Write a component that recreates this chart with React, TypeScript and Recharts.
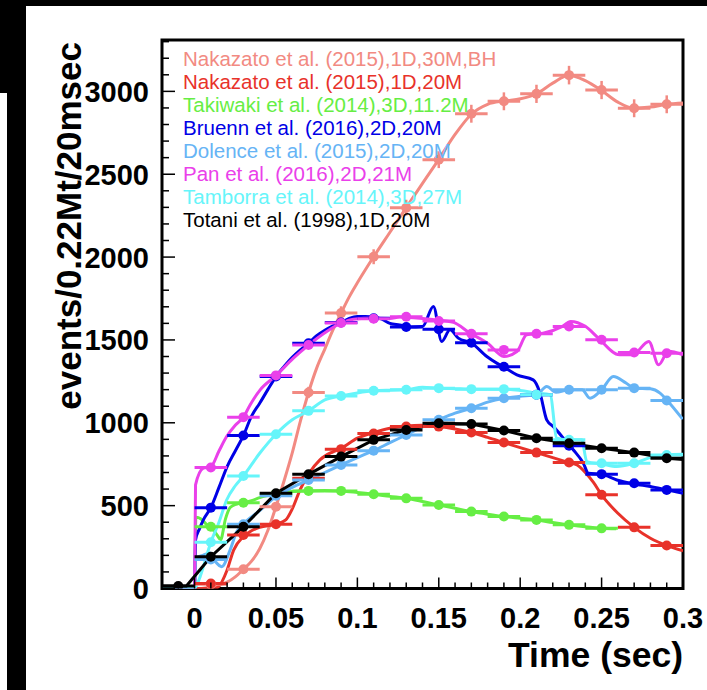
import React from 'react';
import { ComposedChart, Line, Scatter, XAxis, YAxis, ErrorBar, ReferenceArea } from 'recharts';

type Pt = [number, number];

// bin centres of the 20 ms markers
const binCenters = [0.01, 0.03, 0.05, 0.07, 0.09, 0.11, 0.13, 0.15, 0.17, 0.19, 0.21, 0.23, 0.25, 0.27, 0.29];
const takiwakiBins = [0.01, 0.03, 0.05, 0.07, 0.09, 0.11, 0.13, 0.15, 0.17, 0.19, 0.21, 0.23, 0.25];
const totaniBins = [-0.01, 0.01, 0.03, 0.05, 0.07, 0.09, 0.11, 0.13, 0.15, 0.17, 0.19, 0.21, 0.23, 0.25, 0.27, 0.29];

const nakazato30Line: Pt[] = [
  [-0.02, 0], [0.004, 0], [0.01, 8], [0.015, 20], [0.02, 38], [0.025, 70], [0.03, 116], [0.035, 165],
  [0.04, 240], [0.045, 350], [0.05, 494], [0.055, 650], [0.06, 818], [0.065, 1010], [0.07, 1183],
  [0.075, 1330], [0.08, 1445], [0.085, 1560], [0.09, 1662], [0.095, 1760], [0.1, 1845], [0.105, 1925],
  [0.11, 2002], [0.12, 2150], [0.13, 2298], [0.14, 2445], [0.15, 2590], [0.16, 2740], [0.17, 2862],
  [0.18, 2922], [0.19, 2942], [0.2, 2955], [0.21, 2985], [0.22, 3050], [0.23, 3098], [0.24, 3065],
  [0.25, 3005], [0.26, 2935], [0.27, 2898], [0.28, 2905], [0.29, 2922], [0.3, 2930],
];
const nakazato30Marks = [25, 116, 494, 1183, 1662, 2002, 2298, 2588, 2865, 2940, 2985, 3098, 3008, 2898, 2922];
const nakazato30Err = [5, 11, 22, 34, 41, 45, 48, 51, 54, 54, 55, 56, 55, 54, 54];

const nakazato20Line: Pt[] = [
  [-0.02, 0], [0.012, 0], [0.0146, 10], [0.02, 112], [0.024, 232], [0.03, 313], [0.034, 343],
  [0.04, 369], [0.05, 388], [0.056, 414], [0.06, 480], [0.065, 600], [0.07, 690], [0.077, 776],
  [0.085, 825], [0.09, 846], [0.1, 907], [0.11, 941], [0.12, 967], [0.13, 981], [0.14, 985],
  [0.15, 977], [0.16, 962], [0.17, 941], [0.18, 912], [0.19, 881], [0.2, 850], [0.21, 820],
  [0.22, 790], [0.23, 760], [0.235, 745], [0.24, 700], [0.245, 640], [0.25, 565], [0.26, 454],
  [0.27, 369], [0.28, 303], [0.29, 259], [0.3, 228],
];
const nakazato20Marks = [30, 323, 388, 665, 841, 935, 978, 977, 941, 881, 820, 760, 565, 369, 259];

const takiwakiLine: Pt[] = [
  [-0.02, 0], [0, 0], [0.0008, 430], [0.004, 420], [0.008, 380], [0.011, 360], [0.014, 320],
  [0.016, 295], [0.019, 420], [0.022, 490], [0.026, 510], [0.03, 518], [0.035, 530], [0.04, 548],
  [0.05, 571], [0.06, 585], [0.07, 589], [0.08, 591], [0.09, 589], [0.1, 580], [0.11, 569],
  [0.12, 556], [0.13, 544], [0.14, 525], [0.15, 504], [0.16, 484], [0.17, 464], [0.18, 448],
  [0.19, 434], [0.2, 424], [0.21, 414], [0.22, 398], [0.23, 384], [0.24, 372], [0.25, 363], [0.259, 360],
];
const takiwakiMarks = [373, 518, 571, 589, 589, 569, 544, 504, 464, 434, 414, 384, 363];

const bruennLine: Pt[] = [
  [-0.02, 0], [0, 0], [0.0006, 293], [0.003, 360], [0.0054, 414], [0.01, 488], [0.015, 610],
  [0.02, 736], [0.025, 830], [0.03, 923], [0.035, 1040], [0.04, 1118], [0.045, 1200], [0.05, 1279],
  [0.055, 1340], [0.06, 1395], [0.065, 1440], [0.07, 1481], [0.075, 1525], [0.08, 1558],
  [0.085, 1585], [0.09, 1605], [0.095, 1630], [0.1, 1642], [0.105, 1642], [0.11, 1638],
  [0.115, 1625], [0.12, 1600], [0.126, 1590], [0.132, 1578], [0.14, 1581], [0.1467, 1702],
  [0.1518, 1491], [0.1569, 1561], [0.162, 1511], [0.17, 1481], [0.1795, 1400], [0.1856, 1360],
  [0.19, 1336], [0.198, 1289], [0.208, 1259], [0.2122, 1179], [0.2163, 1018], [0.2204, 977],
  [0.2266, 907], [0.2327, 836], [0.2388, 756], [0.2419, 695], [0.25, 689], [0.2593, 655],
  [0.27, 631], [0.28, 615], [0.29, 595], [0.3, 575],
];
const bruennMarks = [488, 923, 1280, 1480, 1605, 1631, 1578, 1565, 1483, 1338, 1169, 861, 690, 635, 595];

const dolenceLine: Pt[] = [
  [-0.02, 0], [0, 0], [0.0006, 180], [0.005, 200], [0.0095, 214], [0.013, 160], [0.0167, 132],
  [0.0218, 232], [0.026, 345], [0.03, 390], [0.04, 470], [0.05, 555], [0.06, 610], [0.07, 655],
  [0.08, 700], [0.09, 746], [0.1, 790], [0.11, 832], [0.12, 880], [0.13, 927], [0.14, 975],
  [0.15, 1018], [0.16, 1058], [0.17, 1088], [0.18, 1125], [0.19, 1148], [0.2, 1160], [0.21, 1169],
  [0.2163, 1219], [0.222, 1185], [0.23, 1199], [0.238, 1199], [0.2429, 1148], [0.25, 1199],
  [0.2572, 1279], [0.265, 1240], [0.27, 1209], [0.28, 1205], [0.2859, 1179], [0.29, 1138], [0.2998, 1022],
];
const dolenceMarks = [175, 388, 560, 655, 746, 832, 927, 1018, 1088, 1148, 1169, 1199, 1199, 1209, 1134];

const panLine: Pt[] = [
  [-0.02, 0], [0, 0], [0.0006, 625], [0.0054, 726], [0.01, 735], [0.015, 830], [0.0197, 917],
  [0.025, 985], [0.03, 1034], [0.0341, 1108], [0.0403, 1199], [0.05, 1285], [0.0607, 1390],
  [0.07, 1469], [0.0812, 1551], [0.09, 1601], [0.0976, 1625], [0.11, 1632], [0.12, 1630],
  [0.126, 1638], [0.147, 1622], [0.159, 1606], [0.169, 1542], [0.18, 1480], [0.19, 1400],
  [0.198, 1430], [0.204, 1531], [0.214, 1541], [0.226, 1582], [0.231, 1612], [0.24, 1582],
  [0.248, 1511], [0.261, 1410], [0.269, 1410], [0.279, 1491], [0.285, 1350], [0.291, 1431], [0.3, 1410],
];
const panMarks = [730, 1034, 1286, 1469, 1602, 1628, 1640, 1614, 1537, 1440, 1537, 1581, 1501, 1424, 1420];

const tamborraLine: Pt[] = [
  [-0.02, 0], [0, 0], [0.003, 60], [0.0054, 132], [0.01, 279], [0.015, 400], [0.0197, 534],
  [0.025, 620], [0.03, 679], [0.04, 816], [0.05, 931], [0.06, 1018], [0.07, 1072], [0.08, 1138],
  [0.09, 1162], [0.1, 1180], [0.11, 1193], [0.12, 1197], [0.13, 1199], [0.14, 1215], [0.15, 1209],
  [0.16, 1206], [0.17, 1203], [0.18, 1203], [0.19, 1203], [0.2, 1195], [0.21, 1180], [0.2184, 1169],
  [0.2225, 907], [0.23, 897], [0.2378, 897], [0.2409, 766], [0.25, 752], [0.2593, 736], [0.27, 756],
  [0.2818, 796], [0.29, 806], [0.3, 810],
];
const tamborraMarks = [279, 679, 931, 1072, 1162, 1193, 1199, 1209, 1203, 1203, 1169, 897, 756, 756, 806];

const totaniLine: Pt[] = [
  [-0.02, 15], [-0.005, 15], [0.01, 192], [0.03, 373], [0.05, 575], [0.07, 689], [0.09, 796],
  [0.11, 897], [0.13, 957], [0.15, 997], [0.17, 993], [0.19, 953], [0.21, 907], [0.23, 877],
  [0.25, 846], [0.27, 820], [0.29, 786], [0.3, 778],
];
const totaniMarks = [15, 192, 373, 575, 689, 796, 897, 957, 997, 993, 953, 907, 877, 846, 820, 786];

const xMinorTicks = [
  -0.02, -0.01, 0, 0.01, 0.02, 0.03, 0.04, 0.05, 0.06, 0.07, 0.08, 0.09, 0.1, 0.11, 0.12, 0.13, 0.14,
  0.15, 0.16, 0.17, 0.18, 0.19, 0.2, 0.21, 0.22, 0.23, 0.24, 0.25, 0.26, 0.27, 0.28, 0.29, 0.3,
];
const xMajorTicks = [0, 0.05, 0.1, 0.15, 0.2, 0.25, 0.3];
const xMajorLabels = ['0', '0.05', '0.1', '0.15', '0.2', '0.25', '0.3'];
const yMajorTicks = [0, 500, 1000, 1500, 2000, 2500, 3000];
const yMajorLabels = ['0', '500', '1000', '1500', '2000', '2500', '3000'];
const yMinorTicks = Array.from({ length: 34 }, (_, i) => i * 100);

const FONT = "'Liberation Sans', Arial, Helvetica, sans-serif";
const X_MIN = -0.02;
const X_MAX = 0.3;
const Y_MAX = 3310;

const toLine = (pts: Pt[]) => pts.map(([t, v]) => ({ t, v }));
const toMarks = (bins: number[], vals: number[], ey?: number[]) =>
  vals.map((v, i) => ({ t: bins[i], v, ex: 0.01, ey: ey ? ey[i] : 0 }));

const series = [
  { name: 'Nakazato et al. (2015),1D,30M,BH', color: '#f28a82', line: nakazato30Line, bins: binCenters, marks: nakazato30Marks, ey: nakazato30Err, curve: 'monotone' },
  { name: 'Nakazato et al. (2015),1D,20M', color: '#e8322a', line: nakazato20Line, bins: binCenters, marks: nakazato20Marks, curve: 'monotone' },
  { name: 'Takiwaki et al. (2014),3D,11.2M', color: '#66ee44', line: takiwakiLine, bins: takiwakiBins, marks: takiwakiMarks, curve: 'monotone' },
  { name: 'Bruenn et al. (2016),2D,20M', color: '#0000e6', line: bruennLine, bins: binCenters, marks: bruennMarks, curve: 'monotone' },
  { name: 'Dolence et al. (2015),2D,20M', color: '#66b4f5', line: dolenceLine, bins: binCenters, marks: dolenceMarks, curve: 'monotone' },
  { name: 'Pan et al. (2016),2D,21M', color: '#ea40ea', line: panLine, bins: binCenters, marks: panMarks, curve: 'monotone' },
  { name: 'Tamborra et al. (2014),3D,27M', color: '#66f5fa', line: tamborraLine, bins: binCenters, marks: tamborraMarks, curve: 'monotone' },
  { name: 'Totani et al. (1998),1D,20M', color: '#000000', line: totaniLine, bins: totaniBins, marks: totaniMarks, curve: 'linear' },
];

const XTick = (props: any) => {
  const { x, y, payload } = props;
  const idx = xMajorTicks.indexOf(payload.value);
  const major = idx >= 0;
  return (
    <g>
      <line x1={x} x2={x} y1={y} y2={y - (major ? 11 : 6)} stroke="#000" strokeWidth={1.5} />
      {major && (
        <text x={x} y={y + 39} textAnchor="middle" fontFamily={FONT} fontWeight="bold" fontSize={29} fill="#000">
          {xMajorLabels[idx]}
        </text>
      )}
    </g>
  );
};

const YTick = (props: any) => {
  const { x, y, payload } = props;
  const idx = yMajorTicks.indexOf(payload.value);
  const major = idx >= 0;
  return (
    <g>
      <line x1={x} x2={x + (major ? 13 : 7)} y1={y} y2={y} stroke="#000" strokeWidth={1.5} />
      {major && (
        <text x={x - 13} y={y} dy="0.36em" textAnchor="end" fontFamily={FONT} fontWeight="bold" fontSize={29} fill="#000">
          {yMajorLabels[idx]}
        </text>
      )}
    </g>
  );
};

const Dot = (color: string) => (props: any) => <circle cx={props.cx} cy={props.cy} r={5} fill={color} />;

export default function App() {
  return (
    <div style={{ position: 'fixed', left: 0, top: 0, width: 707, height: 690, background: '#fff', overflow: 'hidden' }}>
      <ComposedChart width={707} height={690} margin={{ top: 40, right: 24, left: 62, bottom: 41.5 }}>
        <XAxis
          dataKey="t"
          type="number"
          domain={[X_MIN, X_MAX]}
          allowDataOverflow
          ticks={xMinorTicks}
          interval={0}
          tick={<XTick />}
          tickLine={false}
          axisLine={false}
          tickSize={0}
          tickMargin={0}
          height={60}
        />
        <YAxis
          dataKey="v"
          type="number"
          domain={[0, Y_MAX]}
          allowDataOverflow
          ticks={yMinorTicks}
          interval={0}
          tick={<YTick />}
          tickLine={false}
          axisLine={false}
          tickSize={0}
          tickMargin={0}
          width={100}
        />
        {series.map((s) => (
          <Line
            key={s.name + '-line'}
            data={toLine(s.line)}
            dataKey="v"
            type={s.curve as any}
            stroke={s.color}
            strokeWidth={3}
            dot={false}
            activeDot={false}
            legendType="none"
            isAnimationActive={false}
          />
        ))}
        {series.map((s) => (
          <Scatter
            key={s.name + '-marks'}
            data={toMarks(s.bins, s.marks, s.ey)}
            dataKey="v"
            fill={s.color}
            shape={Dot(s.color)}
            legendType="none"
            isAnimationActive={false}
          >
            <ErrorBar dataKey="ex" direction="x" width={0} stroke={s.color} strokeWidth={3} />
            {s.ey && <ErrorBar dataKey="ey" direction="y" width={0} stroke={s.color} strokeWidth={2.5} />}
          </Scatter>
        ))}
        <ReferenceArea
          x1={X_MIN}
          x2={X_MAX}
          y1={0}
          y2={Y_MAX}
          fill="none"
          fillOpacity={0}
          stroke="#000"
          strokeWidth={3}
          ifOverflow="visible"
        />
      </ComposedChart>

      <svg width={707} height={690} style={{ position: 'absolute', left: 0, top: 0, pointerEvents: 'none' }}>
        {series.map((s, i) => (
          <text key={s.name} x={183} y={66 + i * 23} fontFamily={FONT} fontSize={20.5} fill={s.color}>
            {s.name}
          </text>
        ))}
        <text
          x={81}
          y={42}
          transform="rotate(-90 81 42)"
          textAnchor="end"
          fontFamily={FONT}
          fontWeight="bold"
          fontSize={35}
          fill="#000"
        >
          events/0.22Mt/20msec
        </text>
        <text x={683} y={667} textAnchor="end" fontFamily={FONT} fontWeight="bold" fontSize={35.5} fill="#000">
          Time (sec)
        </text>
      </svg>

      {/* black borders of the original screenshot */}
      <div style={{ position: 'absolute', left: 0, top: 0, width: 707, height: 6, background: '#000' }} />
      <div style={{ position: 'absolute', left: 7, top: 0, width: 19, height: 690, background: '#000' }} />
      <div style={{ position: 'absolute', left: 0, top: 0, width: 7, height: 93, background: '#000' }} />
    </div>
  );
}
